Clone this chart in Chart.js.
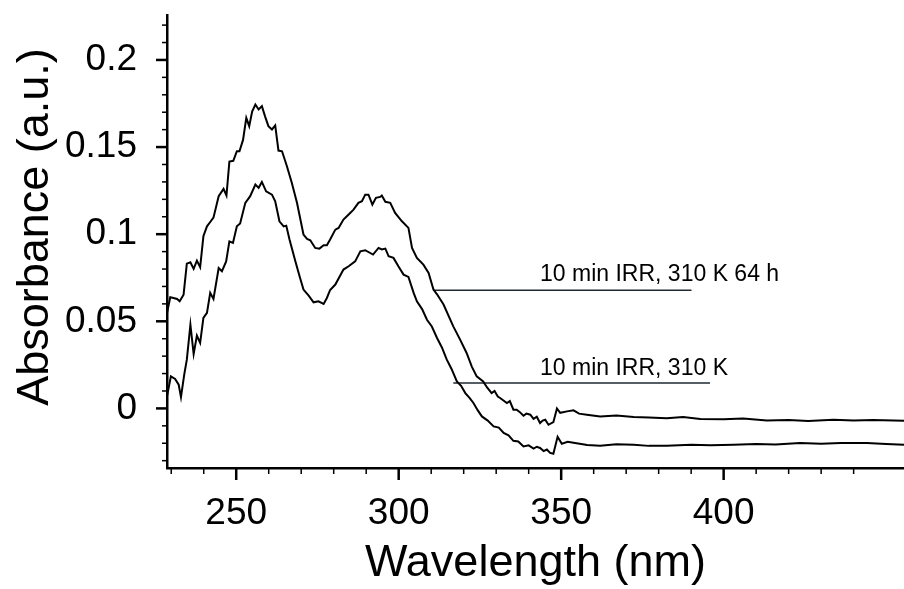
<!DOCTYPE html>
<html>
<head>
<meta charset="utf-8">
<script src="https://cdn.jsdelivr.net/npm/chart.js@4"></script>
<style>
  html, body { margin: 0; padding: 0; background: #fff; }
  #wrap { width: 904px; height: 589px; }
</style>
</head>
<body>
<div id="wrap"><canvas id="myChart" width="904" height="589"></canvas></div>
<script>
// upper trace: 10 min IRR, 310 K 64 h
var wlA = [228.7, 229.7, 230.7, 231.8, 232.6, 233.8, 234.8, 235.9, 236.9, 237.9, 238.9, 239.9, 241.0, 242.0, 243.0,
  244.6, 246.1, 247.0, 247.9, 249.1, 250.2, 251.0, 252.1, 253.1, 254.0, 254.9, 255.9, 256.9, 257.9, 258.9, 259.9,
  261.0, 262.0, 263.0, 264.1, 265.6, 267.1, 268.7, 270.7, 271.8, 272.8, 274.3, 275.6, 276.9, 277.9, 278.9, 280.5,
  281.5, 283.0, 284.6, 286.1, 287.6, 288.7, 289.7, 290.7, 291.9, 293.0, 294.3, 294.8, 295.9, 297.4, 298.9, 301.0,
  303.0, 304.1, 305.6, 307.6, 309.2, 310.7, 311.8, 313.8, 316.8, 318.9, 320.9, 322.5, 324.0, 326.0, 327.2, 328.6,
  329.5, 330.5, 331.2, 333.3, 334.2, 335.3, 336.3, 337.2, 338.4, 339.3, 340.5, 341.5, 342.5, 343.5, 344.3, 345.1,
  346.1, 347.6, 348.7, 349.7, 351.8, 353.8, 355.5, 357.9, 362.0, 367.0, 372.3, 377.0, 382.5, 387.5, 392.8, 400.0,
  406.0, 413.3, 420.0, 426.0, 433.8, 440.0, 446.0, 455.5];
var absA = [0.0548, 0.0638, 0.0634, 0.0628, 0.0615, 0.0653, 0.0831, 0.0839, 0.0801, 0.0848, 0.0810, 0.0988, 0.1045, 0.1070, 0.1095,
  0.1218, 0.1260, 0.1222, 0.1417, 0.1421, 0.1476, 0.1476, 0.1541, 0.1668, 0.1620, 0.1704, 0.1744, 0.1716, 0.1735, 0.1675, 0.1620,
  0.1601, 0.1624, 0.1480, 0.1476, 0.1390, 0.1295, 0.1180, 0.0998, 0.0973, 0.0965, 0.0921, 0.0917, 0.0936, 0.0936, 0.0969, 0.1026,
  0.1036, 0.1084, 0.1113, 0.1141, 0.1180, 0.1189, 0.1227, 0.1227, 0.1170, 0.1209, 0.1214, 0.1222, 0.1186, 0.1180, 0.1122, 0.1074,
  0.1036, 0.0921, 0.0864, 0.0825, 0.0778, 0.0682, 0.0655, 0.0596, 0.0471, 0.0395, 0.0318, 0.0240, 0.0184, 0.0155, 0.0120, 0.0088,
  0.0100, 0.0068, 0.0060, 0.0031, 0.0042, -0.0007, -0.0007, -0.0020, -0.0042, -0.0030, -0.0036, -0.0060, -0.0048, -0.0084, -0.0070, -0.0065,
  -0.0094, -0.0079, 0.0000, -0.0025, -0.0017, -0.0011, -0.0030, -0.0036, -0.0046, -0.0040, -0.0049, -0.0052, -0.0056, -0.0050, -0.0061, -0.0062,
  -0.0058, -0.0069, -0.0066, -0.0072, -0.0065, -0.0070, -0.0066, -0.0071];

// lower trace: 10 min IRR, 310 K
var wlB = [228.7, 229.9, 231.2, 232.3, 233.0, 234.0, 234.8, 235.9, 236.9, 237.9, 238.9, 239.9, 241.0, 242.0, 243.0,
  244.6, 245.6, 246.9, 247.9, 249.0, 250.2, 251.2, 252.8, 254.3, 255.9, 256.9, 257.9, 259.2, 261.0, 262.0, 263.3,
  264.6, 265.4, 266.4, 268.2, 269.5, 270.7, 272.3, 273.8, 275.3, 276.9, 277.9, 278.9, 280.5, 283.0, 284.6, 286.6,
  288.2, 289.7, 292.1, 293.8, 294.8, 295.9, 296.9, 298.4, 299.9, 301.5, 303.0, 304.6, 305.6, 307.2, 308.7, 310.2,
  311.8, 313.3, 314.8, 316.3, 317.9, 319.2, 320.5, 321.8, 323.0, 324.3, 325.6, 327.4, 329.2, 330.8, 332.3, 333.8,
  335.3, 336.8, 338.4, 340.0, 341.5, 342.5, 343.5, 344.6, 345.6, 346.6, 347.6, 348.9, 350.2, 352.0, 353.8, 358.0,
  362.0, 367.0, 372.3, 377.0, 382.5, 390.0, 396.0, 403.0, 410.0, 416.0, 423.5, 430.0, 436.0, 444.1, 450.0, 455.5];
var absB = [0.0069, 0.0184, 0.0169, 0.0136, 0.0065, 0.0194, 0.0280, 0.0481, 0.0312, 0.0418, 0.0376, 0.0519, 0.0548, 0.0663, 0.0628,
  0.0806, 0.0787, 0.0844, 0.0959, 0.0950, 0.1045, 0.1061, 0.1180, 0.1218, 0.1285, 0.1266, 0.1300, 0.1246, 0.1227, 0.1189, 0.1074,
  0.1045, 0.1049, 0.0969, 0.0844, 0.0758, 0.0682, 0.0647, 0.0609, 0.0615, 0.0600, 0.0634, 0.0680, 0.0711, 0.0797, 0.0816, 0.0844,
  0.0902, 0.0908, 0.0883, 0.0921, 0.0912, 0.0917, 0.0873, 0.0864, 0.0816, 0.0768, 0.0755, 0.0663, 0.0615, 0.0570, 0.0509, 0.0470,
  0.0404, 0.0350, 0.0280, 0.0225, 0.0155, 0.0130, 0.0088, 0.0060, 0.0031, -0.0010, -0.0046, -0.0070, -0.0103, -0.0110, -0.0141, -0.0155,
  -0.0186, -0.0190, -0.0218, -0.0212, -0.0231, -0.0220, -0.0227, -0.0245, -0.0236, -0.0255, -0.0260, -0.0163, -0.0203, -0.0192, -0.0197, -0.0210,
  -0.0214, -0.0205, -0.0209, -0.0215, -0.0214, -0.0208, -0.0212, -0.0209, -0.0204, -0.0207, -0.0199, -0.0203, -0.0198, -0.0199, -0.0204, -0.0209];

// label lines next to the traces
var lineStartA = 310.6, lineEndA = 390.1, lineLevelA = 0.0678;
var lineStartB = 316.8, lineEndB = 395.8, lineLevelB = 0.0146;
var labelTexts = ['10 min IRR, 310 K 64 h', '10 min IRR, 310 K'];
var labelX = [343.5, 343.5];
var labelY = [0.0729, 0.0194];

var xLabels = [250, 300, 350, 400];
var yLabels = [0, 0.05, 0.1, 0.15, 0.2];

var fontFam = '"Liberation Sans", Arial, sans-serif';

function pts(xs, ys) {
  return xs.map(function (x, i) { return { x: x, y: ys[i] }; });
}

// minor / major tick marks drawn on the scales
var tickMarks = {
  id: 'tickMarks',
  afterDraw: function (chart) {
    var c = chart.ctx, xs = chart.scales.x, ys = chart.scales.y;
    var a = chart.chartArea;
    c.save();
    c.strokeStyle = '#000';
    for (var v = 230; v <= 440; v += 10) {
      var major = v % 50 === 0;
      var px = xs.getPixelForValue(v);
      c.lineWidth = major ? 2.5 : 1.5;
      c.beginPath();
      c.moveTo(px, a.bottom);
      c.lineTo(px, a.bottom + (major ? 12 : 6));
      c.stroke();
    }
    for (var k = -3; k <= 22; k++) {
      var val = k / 100;
      var py = ys.getPixelForValue(val);
      var maj = k % 5 === 0;
      c.lineWidth = maj ? 2.5 : 1.5;
      c.beginPath();
      c.moveTo(a.left, py);
      c.lineTo(a.left - (maj ? 11 : 5), py);
      c.stroke();
    }
    // y axis title
    c.fillStyle = '#000';
    c.font = '45px ' + fontFam;
    c.textAlign = 'center';
    c.textBaseline = 'middle';
    c.translate(36, 227);
    c.rotate(-Math.PI / 2);
    c.fillText('Absorbance (a.u.)', 0, 0);
    c.restore();
  },
  afterDatasetsDraw: function (chart) {
    var c = chart.ctx, xs = chart.scales.x, ys = chart.scales.y;
    c.save();
    c.fillStyle = '#000';
    c.font = '23px ' + fontFam;
    c.textAlign = 'left';
    c.textBaseline = 'alphabetic';
    for (var i = 0; i < labelTexts.length; i++) {
      c.fillText(labelTexts[i], xs.getPixelForValue(labelX[i]), ys.getPixelForValue(labelY[i]));
    }
    c.restore();
  }
};

var ctx = document.getElementById('myChart').getContext('2d');
var myChart = new Chart(ctx, {
  type: 'line',
  data: {
    datasets: [
      { label: '10 min IRR, 310 K 64 h', data: pts(wlA, absA), borderColor: '#000', borderWidth: 2 },
      { label: '10 min IRR, 310 K', data: pts(wlB, absB), borderColor: '#000', borderWidth: 2 },
      { label: 'lineA', data: pts([lineStartA, lineEndA], [lineLevelA, lineLevelA]), borderColor: '#1e2830', borderWidth: 1.5 },
      { label: 'lineB', data: pts([lineStartB, lineEndB], [lineLevelB, lineLevelB]), borderColor: '#1e2830', borderWidth: 1.5 }
    ]
  },
  options: {
    responsive: false,
    animation: false,
    layout: { padding: { top: 15, right: 0, left: 0, bottom: 0 } },
    elements: { point: { radius: 0 }, line: { tension: 0, fill: false } },
    plugins: { legend: { display: false }, tooltip: { enabled: false } },
    scales: {
      x: {
        type: 'linear',
        min: 228.7,
        max: 455.5,
        afterBuildTicks: function (s) { s.ticks = xLabels.map(function (v) { return { value: v }; }); },
        afterFit: function (s) { s.height = 121; s.paddingLeft = 0; s.paddingRight = 0; },
        grid: { display: false, drawTicks: false },
        border: { display: true, color: '#000', width: 2.5 },
        ticks: { color: '#000', padding: 24, maxRotation: 0, font: { family: fontFam, size: 37 } },
        title: {
          display: true, text: 'Wavelength (nm)', color: '#000',
          font: { family: fontFam, size: 45, lineHeight: 1 }, padding: { top: 0, bottom: 3 }
        }
      },
      y: {
        min: -0.0342,
        max: 0.2258,
        afterBuildTicks: function (s) { s.ticks = yLabels.map(function (v) { return { value: v }; }); },
        afterFit: function (s) { s.width = 167; s.paddingTop = 0; s.paddingBottom = 0; },
        grid: { display: false, drawTicks: false },
        border: { display: true, color: '#000', width: 2.5 },
        ticks: {
          color: '#000', padding: 30, font: { family: fontFam, size: 37 },
          callback: function (v) { return String(Math.round(v * 100) / 100); }
        }
      }
    }
  },
  plugins: [tickMarks]
});
</script>
</body>
</html>
